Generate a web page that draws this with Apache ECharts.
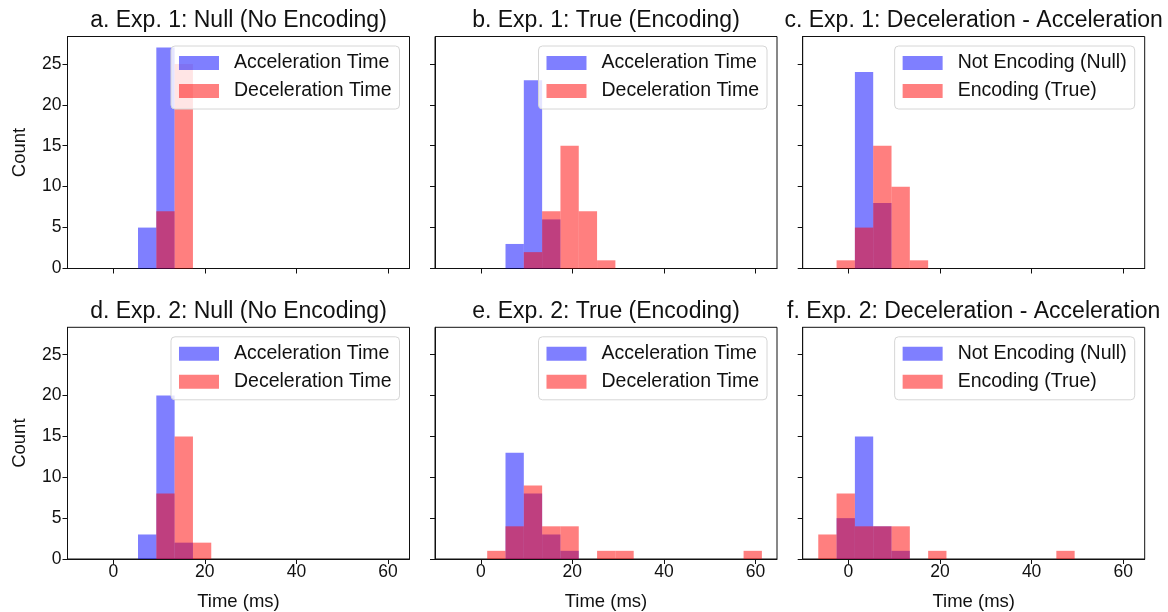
<!DOCTYPE html>
<html lang="en">
<head>
    <meta charset="UTF-8">
    <title>Acceleration / Deceleration histograms</title>
    <script src="https://cdn.jsdelivr.net/npm/echarts@6/dist/echarts.min.js"></script>
    <style type="text/css">
        html, body { margin: 0; padding: 0; background: #fff; }
        #main { width: 1168px; height: 612px; }
    </style>
</head>
<body>
    <div id="main"></div>
    <script>
        // bins are 4 ms wide, left edges shared by every panel
        var binWidth = 4;
        var binStarts = [-6.6, -2.6, 1.4, 5.4, 9.4, 13.4, 17.4, 21.4, 25.4, 29.4, 33.4, 37.4, 41.4, 45.4, 49.4, 53.4, 57.4];
        var xTicks = [0, 20, 40, 60];
        var yTicks = [0, 5, 10, 15, 20, 25];

        var titles = [
            'a. Exp. 1: Null (No Encoding)', 'b. Exp. 1: True (Encoding)', 'c. Exp. 1: Deceleration - Acceleration',
            'd. Exp. 2: Null (No Encoding)', 'e. Exp. 2: True (Encoding)', 'f. Exp. 2: Deceleration - Acceleration'
        ];
        var timeNames = ['Acceleration Time', 'Deceleration Time'];
        var diffNames = ['Not Encoding (Null)', 'Encoding (True)'];

        // counts per bin (blue series, red series)
        var aBlue = [0, 0, 0, 5, 27, 0, 0, 0, 0, 0, 0, 0, 0, 0, 0, 0, 0];
        var aRed  = [0, 0, 0, 0, 7, 25, 0, 0, 0, 0, 0, 0, 0, 0, 0, 0, 0];
        var bBlue = [0, 0, 0, 3, 23, 6, 0, 0, 0, 0, 0, 0, 0, 0, 0, 0, 0];
        var bRed  = [0, 0, 0, 0, 2, 7, 15, 7, 1, 0, 0, 0, 0, 0, 0, 0, 0];
        var cBlue = [0, 0, 24, 8, 0, 0, 0, 0, 0, 0, 0, 0, 0, 0, 0, 0, 0];
        var cRed  = [0, 1, 5, 15, 10, 1, 0, 0, 0, 0, 0, 0, 0, 0, 0, 0, 0];
        var dBlue = [0, 0, 0, 3, 20, 2, 0, 0, 0, 0, 0, 0, 0, 0, 0, 0, 0];
        var dRed  = [0, 0, 0, 0, 8, 15, 2, 0, 0, 0, 0, 0, 0, 0, 0, 0, 0];
        var eBlue = [0, 0, 0, 13, 8, 3, 1, 0, 0, 0, 0, 0, 0, 0, 0, 0, 0];
        var eRed  = [0, 0, 1, 4, 9, 4, 4, 0, 1, 1, 0, 0, 0, 0, 0, 0, 1];
        var fBlue = [0, 5, 15, 4, 1, 0, 0, 0, 0, 0, 0, 0, 0, 0, 0, 0, 0];
        var fRed  = [3, 8, 4, 4, 4, 0, 1, 0, 0, 0, 0, 0, 0, 1, 0, 0, 0];

        var panels = [
            [aBlue, aRed, timeNames], [bBlue, bRed, timeNames], [cBlue, cRed, diffNames],
            [dBlue, dRed, timeNames], [eBlue, eRed, timeNames], [fBlue, fRed, diffNames]
        ];

        var blue = 'rgba(0,0,255,0.5)';
        var red = 'rgba(255,0,0,0.5)';
        var font = "'Liberation Sans', Arial, Helvetica, sans-serif";
        var ink = '#111';

        var colLeft = [67.5, 435, 802.7];
        var rowTop = [36.5, 327.3];
        var gw = 342, gh = 232;

        function toPairs(counts) {
            var out = [];
            for (var i = 0; i < counts.length; i++) {
                if (counts[i] > 0) out.push([binStarts[i], counts[i]]);
            }
            return out;
        }

        function renderBin(params, api) {
            var x0 = api.value(0);
            var p0 = api.coord([x0, 0]);
            var p1 = api.coord([x0 + binWidth, api.value(1)]);
            return {
                type: 'rect',
                shape: { x: p0[0], y: p1[1], width: p1[0] - p0[0], height: p0[1] - p1[1] },
                style: { fill: api.visual('color') }
            };
        }

        var grid = [], xAxis = [], yAxis = [], series = [], legend = [], title = [];
        panels.forEach(function (p, i) {
            var col = i % 3, row = Math.floor(i / 3);
            var left = colLeft[col], top = rowTop[row];
            grid.push({ left: left, top: top, width: gw, height: gh, show: true,
                borderColor: ink, borderWidth: 1, backgroundColor: 'transparent' });
            xAxis.push({
                type: 'value', gridIndex: i, min: -10, max: 64.7,
                name: row === 1 ? 'Time (ms)' : '', nameLocation: 'middle', nameGap: 33,
                nameTextStyle: { fontFamily: font, fontSize: 18.5, color: ink },
                axisLine: { show: true, onZero: false, lineStyle: { color: ink } },
                axisTick: { show: true, length: 5, customValues: xTicks, lineStyle: { color: ink } },
                axisLabel: { show: row === 1, customValues: xTicks, margin: 4,
                    fontFamily: font, fontSize: 17.5, color: ink },
                splitLine: { show: false }
            });
            yAxis.push({
                type: 'value', gridIndex: i, min: 0, max: 28.35,
                name: col === 0 ? 'Count' : '', nameLocation: 'middle', nameGap: 38, nameRotate: 90,
                nameTextStyle: { fontFamily: font, fontSize: 18.5, color: ink },
                axisLine: { show: true, onZero: false, lineStyle: { color: ink } },
                axisTick: { show: true, length: 5, customValues: yTicks, lineStyle: { color: ink } },
                axisLabel: { show: col === 0, customValues: yTicks, margin: 6,
                    fontFamily: font, fontSize: 17.5, color: ink },
                splitLine: { show: false }
            });
            title.push({
                text: titles[i], left: left + gw / 2, top: top - 27, textAlign: 'center', padding: 0,
                textStyle: { fontFamily: font, fontSize: 23, fontWeight: 'normal', color: ink }
            });
            var names = p[2];
            legend.push({
                orient: 'vertical',
                right: 1168 - (left + gw) + 10, top: top + 9.5,
                backgroundColor: 'rgba(255,255,255,0.8)', borderColor: '#d6d6d6', borderWidth: 1,
                borderRadius: 4, padding: [7, 8, 8, 8],
                itemWidth: 40, itemHeight: 14, itemGap: 8, icon: 'rect',
                selectedMode: false,
                textStyle: { fontFamily: font, fontSize: 19.5, color: ink, padding: [0, 0, 0, 10] },
                data: [
                    { name: names[0], itemStyle: { color: blue } },
                    { name: names[1], itemStyle: { color: red } }
                ]
            });
            series.push({
                type: 'custom', name: names[0], xAxisIndex: i, yAxisIndex: i,
                itemStyle: { color: blue }, renderItem: renderBin, data: toPairs(p[0]), z: 2
            });
            series.push({
                type: 'custom', name: names[1], xAxisIndex: i, yAxisIndex: i,
                itemStyle: { color: red }, renderItem: renderBin, data: toPairs(p[1]), z: 3
            });
        });

        var myChart = echarts.init(document.getElementById('main'));
        myChart.setOption({
            animation: false,
            backgroundColor: '#fff',
            title: title,
            legend: legend,
            grid: grid,
            xAxis: xAxis,
            yAxis: yAxis,
            series: series
        });
    </script>
</body>
</html>
